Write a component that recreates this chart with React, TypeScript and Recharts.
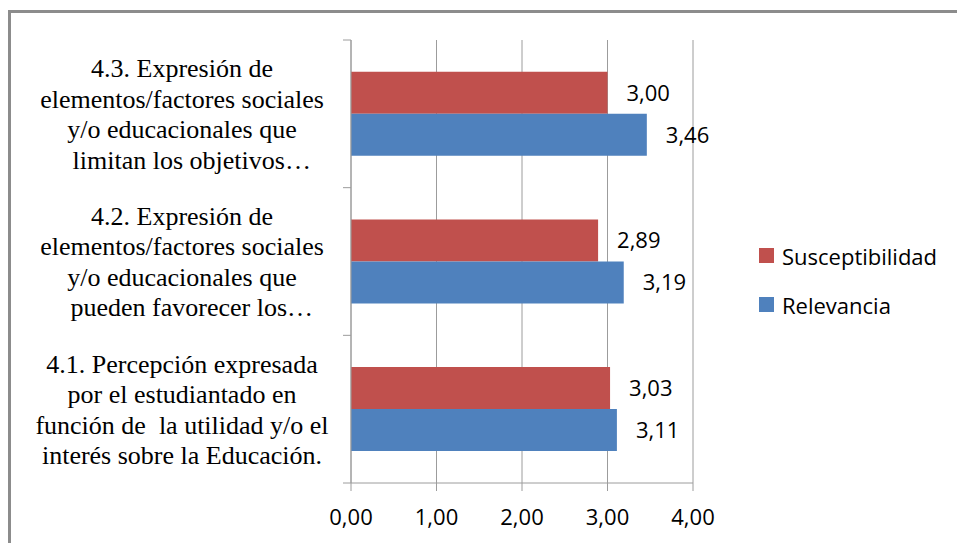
import { BarChart, Bar, XAxis, YAxis, CartesianGrid, Legend, LabelList } from "recharts";

// category labels, top to bottom (line breaks as wrapped in the label column)
const categories = [
  "4.3. Expresión de\nelementos/factores sociales\ny/o educacionales que\n\u00a0\u00a0\u00a0limitan los objetivos…",
  "4.2. Expresión de\nelementos/factores sociales\ny/o educacionales que\n\u00a0\u00a0\u00a0pueden favorecer los…",
  "4.1. Percepción expresada\npor el estudiantado en\nfunción de  la utilidad y/o el\ninterés sobre la Educación.",
];
const susceptibilidad = [3.0, 2.89, 3.03];
const relevancia = [3.46, 3.19, 3.11];
const xTicks = [0, 1, 2, 3, 4];

const series = [
  { key: "susceptibilidad", name: "Susceptibilidad", color: "#C0504D" },
  { key: "relevancia", name: "Relevancia", color: "#4F81BD" },
];

const data = categories.map((name, i) => ({
  name,
  susceptibilidad: susceptibilidad[i],
  relevancia: relevancia[i],
}));

const SANS = "'Open Sans', sans-serif";
const SERIF = "'Liberation Serif', 'Times New Roman', serif";
const AXIS = "#9c9c9c";
const SANS_SIZE = 22;

const fmt = (v: any) => Number(v).toFixed(2).replace(".", ",");

// category tick: wrapped serif text plus tick marks on the band edges
const CategoryTick = (props: any) => {
  const { x, y, payload, index, visibleTicksCount, height } = props;
  const band = height / visibleTicksCount;
  const lines = String(payload.value).split("\n");
  const lh = 30.5;
  const top = y - ((lines.length - 1) * lh) / 2;
  return (
    <g>
      <line x1={x} x2={x + 8} y1={y - band / 2} y2={y - band / 2} stroke={AXIS} />
      {index === visibleTicksCount - 1 && (
        <line x1={x} x2={x + 8} y1={y + band / 2} y2={y + band / 2} stroke={AXIS} />
      )}
      <text x={x - 161} y={top} textAnchor="middle" fontFamily={SERIF} fontSize={26} fill="#000">
        {lines.map((l, i) => (
          <tspan key={i} x={x - 161} y={top + i * lh} dy="0.35em" style={{ whiteSpace: "pre" }}>
            {l}
          </tspan>
        ))}
      </text>
    </g>
  );
};

const LegendBox = () => (
  <div style={{ fontFamily: SANS, fontSize: SANS_SIZE, color: "#000" }}>
    {series.map((s) => (
      <div key={s.key} style={{ display: "flex", alignItems: "center", height: 49 }}>
        <span style={{ width: 15, height: 15, background: s.color, marginRight: 8, display: "inline-block" }} />
        {s.name}
      </div>
    ))}
  </div>
);

export default function App() {
  return (
    <div style={{ position: "absolute", left: 0, top: 0, width: 957, height: 543, overflow: "hidden", background: "#fff" }}>
      <div
        style={{
          position: "absolute",
          left: 8,
          top: 10,
          width: 1100,
          height: 700,
          borderTop: "3px solid #8c8c8c",
          borderLeft: "3px solid #8c8c8c",
        }}
      />
      <BarChart
        width={957}
        height={543}
        data={data}
        layout="vertical"
        margin={{ top: 40, right: 264, bottom: 0, left: 0 }}
        barCategoryGap="21.5%"
        barGap={0}
      >
        <CartesianGrid horizontal={false} stroke={AXIS} />
        <XAxis
          type="number"
          domain={[0, 4]}
          ticks={xTicks}
          interval={0}
          height={60}
          tickSize={8}
          tickMargin={18}
          tickFormatter={fmt}
          stroke={AXIS}
          tick={{ fill: "#000", fontFamily: SANS, fontSize: SANS_SIZE }}
        />
        <YAxis
          type="category"
          dataKey="name"
          width={351}
          tickSize={8}
          tickMargin={0}
          tickLine={false}
          interval={0}
          stroke={AXIS}
          tick={<CategoryTick />}
        />
        <Legend
          layout="horizontal"
          verticalAlign="middle"
          align="center"
          content={<LegendBox />}
          wrapperStyle={{ left: 759, top: 231, width: 198 }}
        />
        {series.map((s) => (
          <Bar key={s.key} dataKey={s.key} name={s.name} fill={s.color} isAnimationActive={false}>
            <LabelList
              dataKey={s.key}
              position="right"
              offset={19}
              formatter={fmt}
              fill="#000"
              fontFamily={SANS}
              fontSize={SANS_SIZE}
            />
          </Bar>
        ))}
      </BarChart>
    </div>
  );
}
